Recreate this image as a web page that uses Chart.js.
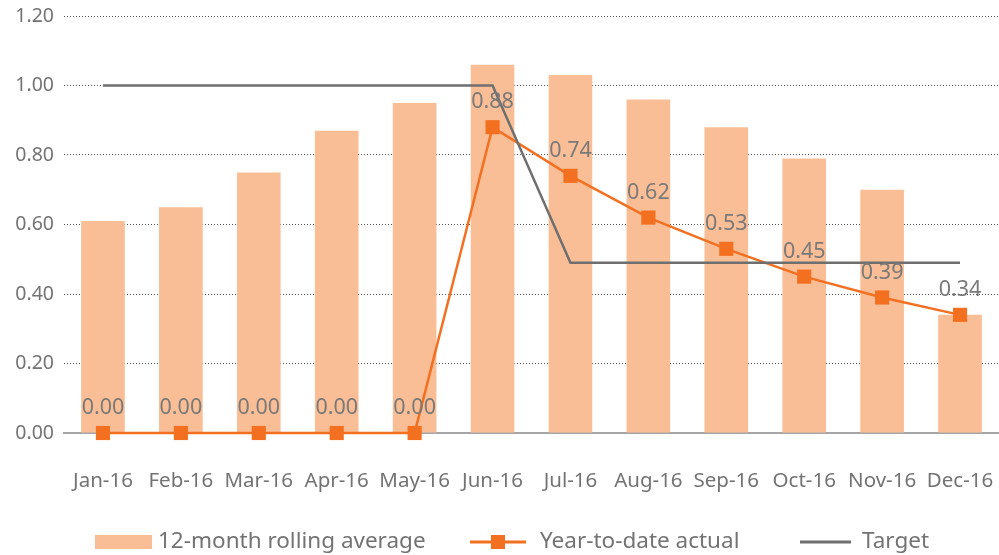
<!DOCTYPE html>
<html>
<head>
<meta charset="utf-8">
<script src="https://cdn.jsdelivr.net/npm/chart.js@4.4.1/dist/chart.umd.min.js"></script>
<style>
  html, body { margin: 0; padding: 0; background: #fff; }
  #wrap { width: 999px; height: 555px; }
</style>
</head>
<body>
<div id="wrap"><canvas id="c" width="999" height="555"></canvas></div>
<script>
const months = ["Jan-16", "Feb-16", "Mar-16", "Apr-16", "May-16", "Jun-16",
  "Jul-16", "Aug-16", "Sep-16", "Oct-16", "Nov-16", "Dec-16"];
const rolling = [0.61, 0.65, 0.75, 0.87, 0.95, 1.06, 1.03, 0.96, 0.88, 0.79, 0.70, 0.34];
const ytdActual = [0, 0, 0, 0, 0, 0.88, 0.74, 0.62, 0.53, 0.45, 0.39, 0.34];
const target = [1, 1, 1, 1, 1, 1, 0.49, 0.49, 0.49, 0.49, 0.49, 0.49];
const yTicks = [0, 0.2, 0.4, 0.6, 0.8, 1.0, 1.2];

const FONT = "'Noto Sans', 'Open Sans', sans-serif";
const BAR = "#f9be96";
const ORANGE = "#f37021";
const GREY = "#6f6f6f";
const TEXT = "#737373";

// labels above the YTD points
const pointLabels = {
  id: "pointLabels",
  afterDatasetsDraw(chart) {
    const ctx = chart.ctx;
    const meta = chart.getDatasetMeta(1);
    ctx.save();
    ctx.font = "21.5px " + FONT;
    ctx.fillStyle = "#7a7a7a";
    ctx.textAlign = "center";
    ctx.textBaseline = "middle";
    meta.data.forEach((pt, i) => {
      ctx.fillText(ytdActual[i].toFixed(2), pt.x, pt.y - 25);
    });
    ctx.restore();
  }
};

// bottom legend drawn by hand
const bottomLegend = {
  id: "bottomLegend",
  afterDraw(chart) {
    const ctx = chart.ctx;
    const y = 542;
    ctx.save();
    ctx.font = "22.5px " + FONT;
    ctx.textBaseline = "middle";

    ctx.fillStyle = BAR;
    ctx.fillRect(95, y - 7, 57, 14);
    ctx.fillStyle = TEXT;
    ctx.fillText(chart.data.datasets[0].label, 158, y);

    ctx.strokeStyle = ORANGE;
    ctx.lineWidth = 3;
    ctx.beginPath(); ctx.moveTo(470, y); ctx.lineTo(526, y); ctx.stroke();
    ctx.fillStyle = ORANGE;
    ctx.fillRect(491, y - 7, 14, 14);
    ctx.fillStyle = TEXT;
    ctx.fillText(chart.data.datasets[1].label, 540, y);

    ctx.strokeStyle = GREY;
    ctx.beginPath(); ctx.moveTo(800, y); ctx.lineTo(851, y); ctx.stroke();
    ctx.fillText(chart.data.datasets[2].label, 862, y);
    ctx.restore();
  }
};

new Chart(document.getElementById("c"), {
  data: {
    labels: months,
    datasets: [
      {
        type: "bar",
        label: "12-month rolling average",
        data: rolling,
        backgroundColor: BAR,
        categoryPercentage: 1,
        barPercentage: 0.56,
        order: 3
      },
      {
        type: "line",
        label: "Year-to-date actual",
        data: ytdActual,
        borderColor: ORANGE,
        backgroundColor: ORANGE,
        borderWidth: 2.5,
        pointStyle: "rect",
        pointRadius: 10,
        pointBorderWidth: 0,
        tension: 0,
        clip: false,
        order: 2
      },
      {
        type: "line",
        label: "Target",
        data: target,
        borderColor: GREY,
        borderWidth: 2.5,
        pointRadius: 0,
        tension: 0,
        order: 1
      }
    ]
  },
  options: {
    responsive: false,
    animation: false,
    layout: { autoPadding: false, padding: { top: 16, right: 0, left: 0, bottom: 0 } },
    plugins: {
      legend: { display: false },
      tooltip: { enabled: false }
    },
    scales: {
      x: {
        grid: { display: false, drawTicks: false },
        border: { display: true, color: "#a6a6a6", width: 2 },
        ticks: { color: TEXT, font: { family: FONT, size: 20.5 }, padding: 36, maxRotation: 0 },
        afterFit(scale) {
          scale.height = 122;
          scale.paddingLeft = 0;
          scale.paddingRight = 0;
        }
      },
      y: {
        min: 0,
        max: 1.2,
        afterBuildTicks(scale) { scale.ticks = yTicks.map(v => ({ value: v })); },
        grid: { color: "#555", drawTicks: false, lineWidth: 1 },
        border: { display: false, dash: [1, 2] },
        ticks: {
          color: TEXT,
          font: { family: FONT, size: 19.5 },
          padding: 10,
          callback: v => v.toFixed(2)
        },
        afterFit(scale) {
          scale.width = 64;
          scale.paddingTop = 0;
          scale.paddingBottom = 0;
        }
      }
    }
  },
  plugins: [pointLabels, bottomLegend]
});
</script>
</body>
</html>
